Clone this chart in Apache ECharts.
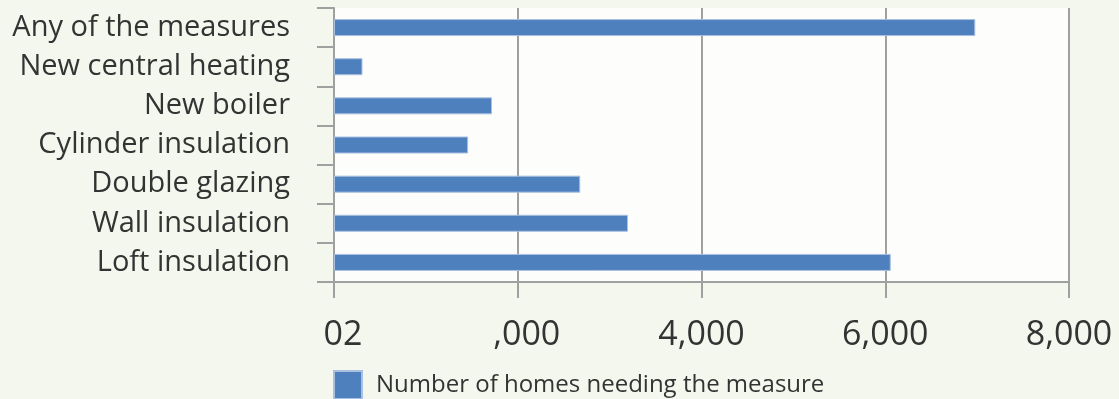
<!DOCTYPE html>
<html>
<head>
<meta charset="utf-8">
<script src="https://cdn.jsdelivr.net/npm/echarts@6/dist/echarts.min.js"></script>
<style>
html,body{margin:0;padding:0;background:#f4f7ee;}
#chart{width:1119px;height:399px;}
</style>
</head>
<body>
<div id="chart"></div>
<script>
var categories = ["Any of the measures", "New central heating", "New boiler", "Cylinder insulation", "Double glazing", "Wall insulation", "Loft insulation"];
var homesNeeding = [6980, 310, 1720, 1460, 2680, 3200, 6060];
var xTickLabels = ["02", ",000", "4,000", "6,000", "8,000"];
var shiftedTicks = [0, 1];
var seriesName = "Number of homes needing the measure";

var chart = echarts.init(document.getElementById('chart'));
var axisGray = '#a0a0a0';
chart.setOption({
  backgroundColor: '#f4f7ee',
  animation: false,
  legend: {
    left: 333, top: 370, padding: 0,
    itemWidth: 28, itemHeight: 28,
    icon: 'rect',
    textStyle: { fontFamily: 'Open Sans', fontSize: 24, color: '#333', padding: [0,0,0,9] },
    data: [seriesName]
  },
  grid: {
    left: 334, right: 50, top: 8, bottom: 117,
    show: true, backgroundColor: '#fdfdfb', borderWidth: 0
  },
  xAxis: {
    type: 'value', min: 0, max: 8000, interval: 2000,
    axisLine: { show: true, lineStyle: { color: axisGray, width: 2 } },
    axisTick: { show: true, length: 16, lineStyle: { color: axisGray, width: 2 } },
    splitLine: { show: true, lineStyle: { color: axisGray, width: 2 } },
    axisLabel: {
      margin: 36,
      fontFamily: 'Open Sans', fontSize: 34, color: '#333',
      formatter: function (v) {
        var i = Math.round(v / 2000);
        var t = xTickLabels[i];
        return shiftedTicks.indexOf(i) >= 0 ? '{s|' + t + '}' : t;
      },
      rich: { s: { fontFamily: 'Open Sans', fontSize: 34, color: '#333', padding: [0,0,0,18] } }
    }
  },
  yAxis: {
    type: 'category', inverse: true, data: categories,
    axisLine: { show: true, lineStyle: { color: axisGray, width: 2 } },
    axisTick: { show: true, length: 17, alignWithLabel: false, lineStyle: { color: axisGray, width: 2 } },
    axisLabel: { margin: 44, fontFamily: 'Open Sans', fontSize: 29, color: '#333' }
  },
  series: [{
    name: seriesName, type: 'bar', data: homesNeeding,
    barWidth: 17,
    itemStyle: { color: '#4e80bd', borderColor: '#a9c0e0', borderWidth: 1 }
  }]
});
</script>
</body>
</html>
